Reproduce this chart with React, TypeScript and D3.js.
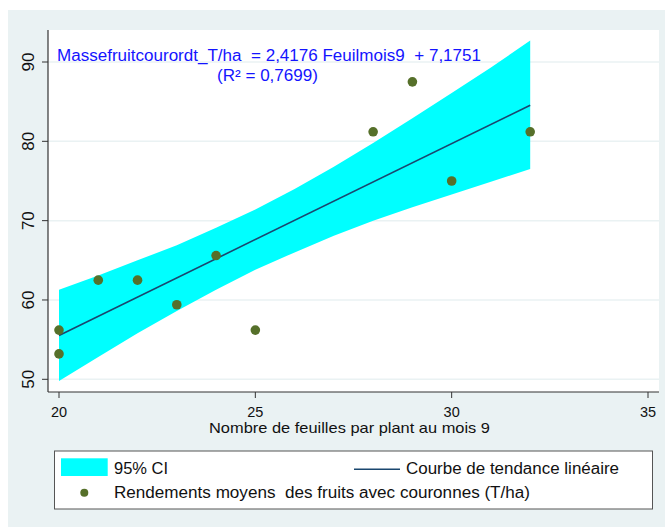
import React from "react";
import * as d3 from "d3";

// ---- data ----
const pointsX = [20, 20, 21, 22, 23, 24, 25, 28, 29, 30, 32];
const pointsY = [56.2, 53.2, 62.5, 62.5, 59.4, 65.6, 56.2, 81.2, 87.5, 75.0, 81.2];

const bandX = [20, 21, 22, 23, 24, 25, 26, 27, 28, 29, 30, 31, 32];
const bandLower = [49.8, 52.8, 55.8, 58.6, 61.3, 63.8, 66.0, 68.1, 70.0, 71.7, 73.3, 74.9, 76.5];
const bandUpper = [61.3, 63.1, 65.0, 66.9, 69.1, 71.4, 74.0, 76.8, 79.8, 82.9, 86.1, 89.3, 92.7];

const fitX = [20, 32];
const fitY = [55.53, 84.54];

const xTicks = [20, 25, 30, 35];
const yTicks = [50, 60, 70, 80, 90];

const equationText = "Massefruitcourordt_T/ha  = 2,4176 Feuilmois9  + 7,1751";
const r2Text = "(R² = 0,7699)";
const xAxisTitle = "Nombre de feuilles par plant au mois 9";
const legendCI = "95% CI";
const legendFit = "Courbe de tendance linéaire";
const legendPoints = "Rendements moyens  des fruits avec couronnes (T/ha)";

const FONT = "'Liberation Sans', Arial, sans-serif";
const BG = "#EAF2F3";
const CYAN = "#00FFFF";
const NAVY = "#1A476F";
const DOT = "#56702A";
const BLUE = "#1414FF";

export default function App() {
  const plotL = 48, plotR = 659, plotT = 30, plotB = 392;
  const x = d3.scaleLinear().domain([20, 35]).range([59, 648]);
  const y = d3.scaleLinear().domain([50, 90]).range([379.3, 62]);

  const bandData = bandX.map((v, i) => ({ x: v, lo: bandLower[i], hi: bandUpper[i] }));
  const area = d3
    .area<{ x: number; lo: number; hi: number }>()
    .x((d) => x(d.x))
    .y0((d) => y(d.lo))
    .y1((d) => y(d.hi));
  const line = d3
    .line<number>()
    .x((_, i) => x(fitX[i]))
    .y((d) => y(d));

  return (
    <svg
      width={665}
      height={527}
      style={{ position: "absolute", left: 0, top: 0, display: "block" }}
      fontFamily={FONT}
    >
      <rect x={0} y={0} width={665} height={527} fill="#ffffff" />
      <rect x={8} y={10} width={657} height={517} fill={BG} />
      <rect x={plotL} y={plotT} width={plotR - plotL} height={plotB - plotT} fill="#ffffff" />

      {/* gridlines */}
      {yTicks.map((t) => (
        <line key={"g" + t} x1={plotL} x2={plotR} y1={y(t)} y2={y(t)} stroke={BG} strokeWidth={1.5} />
      ))}

      {/* CI band */}
      <path d={area(bandData) || ""} fill={CYAN} stroke="none" />
      {/* fit line */}
      <path d={line(fitY) || ""} fill="none" stroke={NAVY} strokeWidth={1.6} />

      {/* points */}
      {pointsX.map((px, i) => (
        <circle key={"p" + i} cx={x(px)} cy={y(pointsY[i])} r={4.8} fill={DOT} />
      ))}

      {/* axes */}
      <line x1={plotL} x2={plotL} y1={plotT} y2={plotB} stroke="#333" strokeWidth={1.2} />
      <line x1={plotL} x2={plotR} y1={plotB} y2={plotB} stroke="#333" strokeWidth={1.2} />
      {yTicks.map((t) => (
        <g key={"yt" + t}>
          <line x1={plotL - 6} x2={plotL} y1={y(t)} y2={y(t)} stroke="#333" strokeWidth={1} />
          <text
            transform={`translate(34,${y(t)}) rotate(-90)`}
            textAnchor="middle"
            fontSize={17}
            fill="#111"
          >
            {t}
          </text>
        </g>
      ))}
      {xTicks.map((t) => (
        <g key={"xt" + t}>
          <line x1={x(t)} x2={x(t)} y1={plotB} y2={plotB + 6} stroke="#333" strokeWidth={1} />
          <text x={x(t)} y={416.5} textAnchor="middle" fontSize={14.5} fill="#111">
            {t}
          </text>
        </g>
      ))}
      <text x={349.5} y={433} textAnchor="middle" fontSize={15} fill="#111" textLength={281} lengthAdjust="spacingAndGlyphs">
        {xAxisTitle}
      </text>

      {/* equation */}
      <text x={57} y={61} fontSize={16} fill={BLUE} textLength={424} lengthAdjust="spacingAndGlyphs" xmlSpace="preserve" style={{ whiteSpace: "pre" }}>
        {equationText}
      </text>
      <text x={217} y={81} fontSize={16} fill={BLUE} textLength={101} lengthAdjust="spacingAndGlyphs">
        {r2Text}
      </text>

      {/* legend */}
      <rect x={54.5} y={451} width={598} height={58} fill="#ffffff" stroke="#555" strokeWidth={1} />
      <rect x={61} y={458.3} width={46.7} height={17.7} fill={CYAN} />
      <text x={114} y={474.3} fontSize={16} fill="#111" textLength={54} lengthAdjust="spacingAndGlyphs">
        {legendCI}
      </text>
      <line x1={354} x2={400} y1={469.3} y2={469.3} stroke={NAVY} strokeWidth={1.6} />
      <text x={406} y={474.3} fontSize={16} fill="#111" textLength={213} lengthAdjust="spacingAndGlyphs">
        {legendFit}
      </text>
      <circle cx={84.3} cy={492.7} r={4} fill={DOT} />
      <text x={114} y={497.5} fontSize={16} fill="#111" textLength={416} lengthAdjust="spacingAndGlyphs" style={{ whiteSpace: "pre" }}>
        {legendPoints}
      </text>
    </svg>
  );
}
